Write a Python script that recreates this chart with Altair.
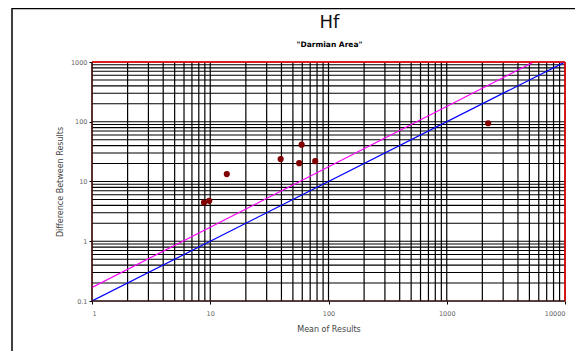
import altair as alt
import pandas as pd

# Data
mean_results = [8.85, 9.8, 13.8, 39.4, 56.5, 59.3, 77.2, 2240]
diff_results = [4.45, 4.75, 13.3, 23.7, 20.3, 41.4, 21.9, 94.4]

blue_x = [1, 10000]
blue_y = [0.1, 1000]
magenta_x = [1, 5450]
magenta_y = [0.168, 1000]

x_major = [1, 10, 100, 1000, 10000]
y_major = [0.1, 1, 10, 100, 1000]

x_grid = [m * d for d in [1, 10, 100, 1000] for m in range(1, 10)] + [10000]
y_grid = [m * d for d in [0.1, 1, 10, 100] for m in range(1, 10)] + [1000]

title_text = "Hf"
subtitle_text = '"Darmian Area"'

pts = pd.DataFrame({"mean": mean_results, "diff": diff_results})
lines = pd.DataFrame({
    "mean": blue_x + magenta_x,
    "diff": blue_y + magenta_y,
    "s": ["blue", "blue", "magenta", "magenta"],
})

W, H = 473, 239
xs = alt.Scale(type="log", domain=[1, 10000], nice=False)
ys = alt.Scale(type="log", domain=[0.1, 1000], nice=False)

FONT = "DejaVu Sans"

x_axis = alt.Axis(values=x_major, title="Mean of Results", grid=False,
                  format="~g", labelFontSize=6.5, labelColor="#666",
                  labelFont=FONT, titleFont=FONT, titleFontSize=8,
                  titleFontWeight="normal", titleColor="#444",
                  tickColor="black", tickSize=3, domain=False,
                  labelPadding=6, titlePadding=9)
y_axis = alt.Axis(values=y_major, title="Difference Between Results", grid=False,
                  format="~g", labelFontSize=6.5, labelColor="#666",
                  labelFont=FONT, titleFont=FONT, titleFontSize=8,
                  titleFontWeight="normal", titleColor="#444",
                  tickColor="black", tickSize=3, domain=False,
                  labelPadding=2, titlePadding=6)

xgrid = alt.Chart(pd.DataFrame({"g": x_grid})).mark_rule(color="black", strokeWidth=1.2).encode(
    x=alt.X("g:Q", scale=xs, axis=x_axis)
)
ygrid = alt.Chart(pd.DataFrame({"g": y_grid})).mark_rule(color="black", strokeWidth=1.2).encode(
    y=alt.Y("g:Q", scale=ys, axis=y_axis)
)

ref_lines = alt.Chart(lines).mark_line(strokeWidth=1.2, clip=True).encode(
    x=alt.X("mean:Q", scale=xs),
    y=alt.Y("diff:Q", scale=ys),
    color=alt.Color("s:N", scale=alt.Scale(domain=["blue", "magenta"],
                                           range=["#0000FF", "#FF00FF"]), legend=None),
    detail="s:N",
)

points = alt.Chart(pts).mark_circle(color="#800000", size=38, opacity=1).encode(
    x=alt.X("mean:Q", scale=xs),
    y=alt.Y("diff:Q", scale=ys),
)

one = pd.DataFrame({"a": [0]})
top_border = alt.Chart(one).mark_rule(color="#FF0000", strokeWidth=1.5).encode(
    x=alt.value(0), x2=alt.value(W), y=alt.value(0)
)
right_border = alt.Chart(one).mark_rule(color="#FF0000", strokeWidth=1.5).encode(
    x=alt.value(W), y=alt.value(0), y2=alt.value(H)
)
left_border = alt.Chart(one).mark_rule(color="#5a1010", strokeWidth=1.2).encode(
    x=alt.value(0), y=alt.value(0), y2=alt.value(H)
)
bottom_border = alt.Chart(one).mark_rule(color="#3a0a0a", strokeWidth=1.2).encode(
    x=alt.value(0), x2=alt.value(W), y=alt.value(H)
)
frame_left = alt.Chart(one).mark_rule(color="black", strokeWidth=1.5).encode(
    x=alt.value(-80), y=alt.value(-54), y2=alt.value(300)
)
frame_top = alt.Chart(one).mark_rule(color="black", strokeWidth=1.5).encode(
    x=alt.value(-80), x2=alt.value(500), y=alt.value(-53.5)
)

title_mark = alt.Chart(pd.DataFrame({"t": [title_text]})).mark_text(
    font=FONT, fontSize=18, color="#111", align="center", baseline="alphabetic"
).encode(x=alt.value(W / 2 + 1), y=alt.value(-34), text="t:N")
subtitle_mark = alt.Chart(pd.DataFrame({"t": [subtitle_text]})).mark_text(
    font=FONT, fontSize=7.5, fontWeight="bold", color="black", align="center",
    baseline="alphabetic"
).encode(x=alt.value(W / 2 + 1), y=alt.value(-15), text="t:N")

chart = alt.layer(
    xgrid, ygrid, ref_lines, points, top_border, right_border, left_border, bottom_border,
    frame_left, frame_top, title_mark, subtitle_mark,
).properties(
    width=W,
    height=H,
    autosize=alt.AutoSizeParams(type="none"),
    padding={"left": 84, "top": 54, "right": 10, "bottom": 50},
).configure_view(stroke=None).configure(background="white")

chart.save("out.html", embed_options={"renderer": "svg", "actions": False})
